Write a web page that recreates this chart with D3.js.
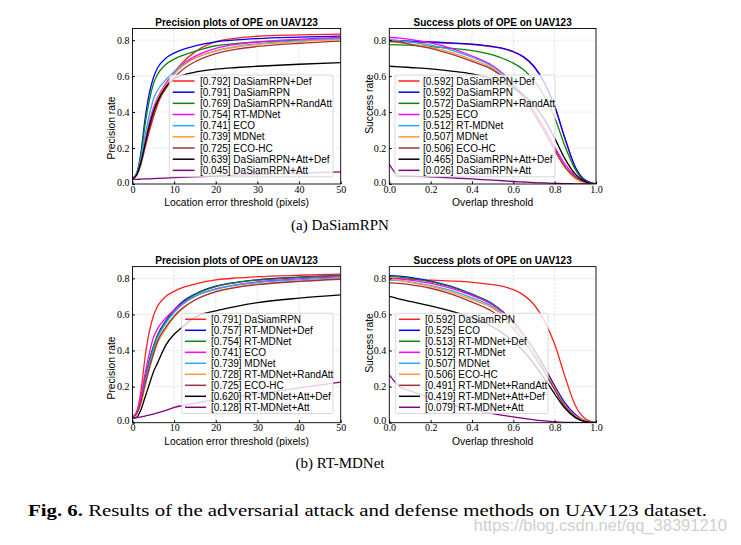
<!DOCTYPE html>
<html>
<head>
<meta charset="utf-8">
<script src="https://cdn.jsdelivr.net/npm/d3@7"></script>
<style>
body { margin: 0; background: #fff; }
svg { font-family: "Liberation Sans", Arial, sans-serif; }
</style>
</head>
<body>
<svg id="fig"></svg>
<script>
// thresholds the curves were read at
const precX = [0, 1, 2, 3, 4, 5, 6, 8, 10, 12, 15, 20, 25, 30, 40, 50];
const succX = [0, 0.05, 0.1, 0.2, 0.3, 0.4, 0.5, 0.55, 0.6, 0.65, 0.7, 0.75, 0.8, 0.85, 0.9, 0.95, 1.0];
const precTicks = [0, 10, 20, 30, 40, 50];
const succTicks = [0, 0.2, 0.4, 0.6, 0.8, 1.0];
const rateTicks = [0, 0.2, 0.4, 0.6, 0.8];

// precision values
const pDaSiam       = [0.03,0.06,0.17,0.36,0.50,0.59,0.645,0.70,0.728,0.748,0.768,0.791,0.802,0.809,0.817,0.823];
const pDaSiamDef    = [0.03,0.05,0.11,0.20,0.29,0.37,0.44,0.54,0.62,0.675,0.735,0.792,0.812,0.822,0.829,0.834];
const pDaSiamRand   = [0.03,0.06,0.15,0.33,0.46,0.555,0.61,0.665,0.695,0.715,0.738,0.769,0.782,0.79,0.80,0.808];
const pDaSiamAttDef = [0.03,0.05,0.12,0.22,0.32,0.40,0.46,0.54,0.585,0.605,0.622,0.639,0.648,0.655,0.666,0.675];
const pDaSiamAtt    = [0.025,0.026,0.027,0.028,0.029,0.03,0.031,0.033,0.035,0.037,0.040,0.045,0.049,0.053,0.061,0.068];
const pRT           = [0.03,0.05,0.12,0.24,0.34,0.42,0.48,0.56,0.62,0.665,0.71,0.754,0.777,0.79,0.805,0.815];
const pRTDef        = [0.03,0.05,0.12,0.24,0.34,0.42,0.485,0.565,0.625,0.67,0.713,0.757,0.778,0.792,0.806,0.816];
const pRTRand       = [0.03,0.05,0.10,0.20,0.29,0.37,0.44,0.52,0.585,0.63,0.68,0.728,0.752,0.768,0.785,0.797];
const pRTAttDef     = [0.025,0.03,0.07,0.14,0.21,0.28,0.33,0.43,0.49,0.53,0.585,0.62,0.645,0.665,0.69,0.708];
const pRTAtt        = [0.025,0.028,0.032,0.037,0.042,0.048,0.054,0.068,0.085,0.095,0.108,0.128,0.145,0.16,0.193,0.225];
const pECO          = [0.03,0.06,0.14,0.27,0.38,0.47,0.52,0.58,0.625,0.66,0.70,0.741,0.765,0.78,0.797,0.808];
const pMDNet        = [0.03,0.05,0.11,0.22,0.32,0.40,0.47,0.55,0.61,0.655,0.70,0.739,0.762,0.776,0.792,0.803];
const pECOHC        = [0.03,0.05,0.11,0.21,0.30,0.38,0.45,0.53,0.59,0.635,0.68,0.725,0.75,0.765,0.783,0.795];

// success values
const sDaSiam       = [0.80,0.797,0.795,0.79,0.785,0.778,0.765,0.755,0.737,0.707,0.655,0.565,0.435,0.255,0.095,0.02,0];
const sDaSiamDef    = [0.795,0.793,0.79,0.787,0.782,0.776,0.763,0.753,0.735,0.705,0.652,0.562,0.43,0.25,0.09,0.018,0];
const sDaSiamRand   = [0.775,0.774,0.772,0.764,0.755,0.742,0.718,0.698,0.672,0.635,0.575,0.49,0.37,0.21,0.08,0.015,0];
const sDaSiamAttDef = [0.655,0.652,0.648,0.64,0.628,0.612,0.585,0.565,0.535,0.495,0.44,0.36,0.255,0.14,0.055,0.012,0];
const sDaSiamAtt    = [0.11,0.045,0.044,0.04,0.034,0.028,0.021,0.018,0.014,0.011,0.008,0.006,0.004,0.002,0.001,0,0];
const sRT           = [0.80,0.797,0.79,0.772,0.745,0.705,0.652,0.61,0.555,0.483,0.395,0.295,0.19,0.095,0.035,0.007,0];
const sRTDef        = [0.81,0.807,0.80,0.78,0.752,0.71,0.657,0.614,0.558,0.486,0.398,0.298,0.195,0.098,0.037,0.008,0];
const sRTRand       = [0.775,0.772,0.765,0.745,0.712,0.668,0.615,0.573,0.522,0.455,0.37,0.28,0.183,0.09,0.033,0.007,0];
const sRTAttDef     = [0.70,0.685,0.672,0.648,0.618,0.582,0.532,0.495,0.452,0.395,0.325,0.245,0.16,0.08,0.028,0.005,0];
const sRTAtt        = [0.265,0.20,0.178,0.135,0.10,0.072,0.05,0.041,0.032,0.024,0.016,0.01,0.005,0.002,0.001,0,0];
const sECO          = [0.815,0.812,0.805,0.785,0.755,0.712,0.658,0.615,0.56,0.49,0.405,0.31,0.205,0.11,0.045,0.01,0];
const sMDNet        = [0.79,0.787,0.78,0.76,0.732,0.692,0.642,0.60,0.548,0.478,0.39,0.29,0.185,0.09,0.03,0.006,0];
const sECOHC        = [0.795,0.79,0.777,0.755,0.722,0.682,0.635,0.595,0.545,0.478,0.39,0.295,0.19,0.095,0.038,0.01,0];

// legend entries, in legend order
const labelsTL = ['[0.792] DaSiamRPN+Def','[0.791] DaSiamRPN','[0.769] DaSiamRPN+RandAtt','[0.754] RT-MDNet','[0.741] ECO','[0.739] MDNet','[0.725] ECO-HC','[0.639] DaSiamRPN+Att+Def','[0.045] DaSiamRPN+Att'];
const labelsTR = ['[0.592] DaSiamRPN+Def','[0.592] DaSiamRPN','[0.572] DaSiamRPN+RandAtt','[0.525] ECO','[0.512] RT-MDNet','[0.507] MDNet','[0.506] ECO-HC','[0.465] DaSiamRPN+Att+Def','[0.026] DaSiamRPN+Att'];
const labelsBL = ['[0.791] DaSiamRPN','[0.757] RT-MDNet+Def','[0.754] RT-MDNet','[0.741] ECO','[0.739] MDNet','[0.728] RT-MDNet+RandAtt','[0.725] ECO-HC','[0.620] RT-MDNet+Att+Def','[0.128] RT-MDNet+Att'];
const labelsBR = ['[0.592] DaSiamRPN','[0.525] ECO','[0.513] RT-MDNet+Def','[0.512] RT-MDNet','[0.507] MDNet','[0.506] ECO-HC','[0.491] RT-MDNet+RandAtt','[0.419] RT-MDNet+Att+Def','[0.079] RT-MDNet+Att'];

const seriesTL = [pDaSiamDef, pDaSiam, pDaSiamRand, pRT, pECO, pMDNet, pECOHC, pDaSiamAttDef, pDaSiamAtt];
const seriesTR = [sDaSiamDef, sDaSiam, sDaSiamRand, sECO, sRT, sMDNet, sECOHC, sDaSiamAttDef, sDaSiamAtt];
const seriesBL = [pDaSiam, pRTDef, pRT, pECO, pMDNet, pRTRand, pECOHC, pRTAttDef, pRTAtt];
const seriesBR = [sDaSiam, sECO, sRTDef, sRT, sMDNet, sECOHC, sRTRand, sRTAttDef, sRTAtt];

// same colour order in every panel
const colors = ['#ff2020', '#0000ff', '#0b850b', '#ff00ff', '#2aa8f2', '#ff9a33', '#a3323f', '#000000', '#800080'];

const serif = '"Liberation Serif", "Times New Roman", serif';

let svg = d3.select('#fig').attr('width', 741).attr('height', 545);
svg.append('rect').attr('width', 741).attr('height', 545).attr('fill', '#fff');

// panel layout
let panels = [
  {title: 'Precision plots of OPE on UAV123', xlab: 'Location error threshold (pixels)', ylab: 'Precision rate',
   xs: precX, xdom: [0, 50], xticks: precTicks, xfmt: d3.format('d'), series: seriesTL, labels: labelsTL,
   left: 132.5, right: 340.7, top: 28.5, bottom: 184, titleY: 26, xlabY: 205.5, ylabX: 115, ylabY: 128,
   leg: {x: 169.3, lx0: 172.7, lx1: 194.5, tx: 200, row0: 81, step: 11.17}},
  {title: 'Success plots of OPE on UAV123', xlab: 'Overlap threshold', ylab: 'Success rate',
   xs: succX, xdom: [0, 1], xticks: succTicks, xfmt: d3.format('.1f'), series: seriesTR, labels: labelsTR,
   left: 389.3, right: 596, top: 28.5, bottom: 184, titleY: 26, xlabY: 205.5, ylabX: 372.5, ylabY: 104,
   leg: {x: 395, lx0: 398.5, lx1: 419.5, tx: 423, row0: 81, step: 11.17, w: 160}},
  {title: 'Precision plots of OPE on UAV123', xlab: 'Location error threshold (pixels)', ylab: 'Precision rate',
   xs: precX, xdom: [0, 50], xticks: precTicks, xfmt: d3.format('d'), series: seriesBL, labels: labelsBL,
   left: 132.5, right: 340.7, top: 266.6, bottom: 422.7, titleY: 264, xlabY: 444.5, ylabX: 115, ylabY: 368,
   leg: {x: 181.7, lx0: 185, lx1: 206, tx: 211, row0: 319.3, step: 11}},
  {title: 'Success plots of OPE on UAV123', xlab: 'Overlap threshold', ylab: 'Success rate',
   xs: succX, xdom: [0, 1], xticks: succTicks, xfmt: d3.format('.1f'), series: seriesBR, labels: labelsBR,
   left: 389.3, right: 596, top: 266.6, bottom: 422.7, titleY: 264, xlabY: 444.5, ylabX: 372.5, ylabY: 343,
   leg: {x: 395.7, lx0: 399, lx1: 420, tx: 425, row0: 319.3, step: 11, w: 152.3}}
];

panels.forEach(function(p, i) {
  let x = d3.scaleLinear().domain(p.xdom).range([p.left, p.right]);
  let y = d3.scaleLinear().domain([0, 0.865]).range([p.bottom, p.top]);
  let g = svg.append('g');

  svg.append('clipPath').attr('id', 'clip' + i)
    .append('rect')
    .attr('x', p.left).attr('y', p.top)
    .attr('width', p.right - p.left).attr('height', p.bottom - p.top);

  // dashed grid
  g.selectAll('.vg').data(p.xticks.slice(1, -1)).enter().append('line')
    .attr('x1', function(d) { return x(d); }).attr('x2', function(d) { return x(d); })
    .attr('y1', p.top).attr('y2', p.bottom)
    .attr('stroke', '#d6d6d6').attr('stroke-width', 0.8).attr('stroke-dasharray', '2,2');
  g.selectAll('.hg').data(rateTicks.slice(1)).enter().append('line')
    .attr('x1', p.left).attr('x2', p.right)
    .attr('y1', function(d) { return y(d); }).attr('y2', function(d) { return y(d); })
    .attr('stroke', '#d6d6d6').attr('stroke-width', 0.8).attr('stroke-dasharray', '2,2');

  // curves
  let line = d3.line()
    .x(function(d) { return x(d[0]); })
    .y(function(d) { return y(d[1]); })
    .curve(d3.curveMonotoneX);
  let curves = g.append('g').attr('clip-path', 'url(#clip' + i + ')');
  p.series.forEach(function(vals, k) {
    curves.append('path')
      .datum(p.xs.map(function(t, j) { return [t, vals[j]]; }))
      .attr('d', line)
      .attr('fill', 'none')
      .attr('stroke', colors[k])
      .attr('stroke-width', 1.3);
  });

  // axes (tick labels only, frame drawn separately)
  let xa = g.append('g')
    .attr('transform', 'translate(0,' + p.bottom + ')')
    .call(d3.axisBottom(x).tickValues(p.xticks).tickFormat(p.xfmt).tickSize(-2.5).tickPadding(1.5));
  let ya = g.append('g')
    .attr('transform', 'translate(' + p.left + ',0)')
    .call(d3.axisLeft(y).tickValues(rateTicks).tickFormat(d3.format('.1f')).tickSize(-2.5).tickPadding(3));
  [xa, ya].forEach(function(a) {
    a.attr('font-family', null).attr('font-size', null);
    a.select('.domain').remove();
    a.selectAll('text').attr('font-family', serif)
      .attr('font-size', '10px').attr('fill', '#000');
  });
  // keep the two "0.0" labels in the corner from colliding
  ya.selectAll('.tick text').filter(function(d) { return d === 0; }).attr('dy', '0.1em');

  g.append('rect')
    .attr('x', p.left).attr('y', p.top)
    .attr('width', p.right - p.left).attr('height', p.bottom - p.top)
    .attr('fill', 'none').attr('stroke', '#000').attr('stroke-width', 0.9);

  // titles and labels
  g.append('text').text(p.title)
    .attr('x', (p.left + p.right) / 2).attr('y', p.titleY)
    .attr('text-anchor', 'middle').attr('font-weight', 'bold').attr('font-size', '10px');
  g.append('text').text(p.xlab)
    .attr('x', (p.left + p.right) / 2).attr('y', p.xlabY)
    .attr('text-anchor', 'middle').attr('font-size', '10.3px');
  g.append('text').text(p.ylab)
    .attr('transform', 'translate(' + p.ylabX + ',' + p.ylabY + ')rotate(-90)')
    .attr('text-anchor', 'middle').attr('font-size', '10.3px');

  // legend
  let L = p.leg;
  let lg = g.append('g');
  lg.append('rect')
    .attr('x', L.x).attr('y', L.row0 - 6)
    .attr('width', L.w || (p.right - 7.7 - L.x)).attr('height', 9 * L.step + 1.2)
    .attr('rx', 2)
    .attr('fill', '#fff').attr('fill-opacity', 0.8)
    .attr('stroke', '#cfcfcf').attr('stroke-width', 0.8);
  let rows = lg.selectAll('.row').data(p.labels).enter().append('g')
    .attr('transform', function(d, k) { return 'translate(0,' + (L.row0 + k * L.step) + ')'; });
  rows.append('line')
    .attr('x1', L.lx0).attr('x2', L.lx1).attr('y1', 0).attr('y2', 0)
    .attr('stroke', function(d, k) { return colors[k]; }).attr('stroke-width', 1.5);
  rows.append('text').text(function(d) { return d; })
    .attr('x', L.tx).attr('y', 3.6).attr('font-size', '10px');
});

// captions
svg.append('text').text('(a) DaSiamRPN')
  .attr('x', 340).attr('y', 230).attr('text-anchor', 'middle')
  .attr('font-family', serif).attr('font-size', '15px');
svg.append('text').text('(b) RT-MDNet')
  .attr('x', 340).attr('y', 468).attr('text-anchor', 'middle')
  .attr('font-family', serif).attr('font-size', '15px');
let cap = svg.append('text')
  .attr('x', 28).attr('y', 516)
  .attr('font-family', serif).attr('font-size', '16px')
  .attr('textLength', 679).attr('lengthAdjust', 'spacingAndGlyphs');
cap.append('tspan').text('Fig. 6.').attr('font-weight', 'bold');
cap.append('tspan').text(' Results of the adversarial attack and defense methods on UAV123 dataset.');

svg.append('text').text('https://blog.csdn.net/qq_38391210')
  .attr('x', 727).attr('y', 531).attr('text-anchor', 'end')
  .attr('font-size', '16.5px').attr('fill', '#d0d0d0');
</script>
</body>
</html>
